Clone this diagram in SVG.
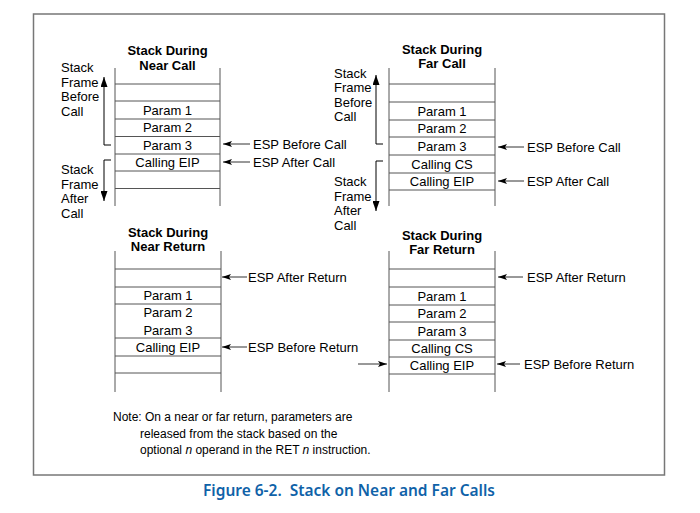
<svg xmlns="http://www.w3.org/2000/svg" width="700" height="513" viewBox="0 0 700 513">
<style>
.t{font-family:"Liberation Sans",Arial,sans-serif;font-size:13px;fill:#000}
.c{text-anchor:middle}
.b{font-weight:bold}
.n{font-family:"Liberation Sans",Arial,sans-serif;font-size:12px;fill:#000}
.s{stroke:#555;stroke-width:1;fill:none}
.a{stroke:#333;stroke-width:1;fill:none;marker-end:url(#ah)}
.br{stroke:#000;stroke-width:1;fill:none;marker-end:url(#bh)}
.cap{font-family:"Noto Sans","Open Sans",sans-serif;font-size:15.5px;font-weight:600;fill:#0f62a8}
</style>
<defs>
<marker id="ah" markerWidth="9" markerHeight="6" refX="9" refY="3" orient="auto" markerUnits="userSpaceOnUse">
<path d="M0,0 L9,3 L0,6 L2,3 z" fill="#000"/>
</marker>
<marker id="bh" markerWidth="10" markerHeight="7" refX="10" refY="3.5" orient="auto" markerUnits="userSpaceOnUse">
<path d="M0,0 L10,3.5 L0,7 z" fill="#000"/>
</marker>
</defs>
<rect x="33.5" y="14" width="631" height="461" fill="#fff" stroke="#777" stroke-width="1.5"/>

<g id="near-call">
<text class="t c b" x="167.5" y="55">Stack During</text>
<text class="t c b" x="167.5" y="70">Near Call</text>
<path class="s" d="M115,68V206M220,68V206M115,84H220M115,101H220M115,119H220M115,136.5H220M115,154H220M115,171H220M115,188.5H220"/>
<text class="t c" x="167.5" y="114.5">Param 1</text>
<text class="t c" x="167.5" y="132">Param 2</text>
<text class="t c" x="167.5" y="149.5">Param 3</text>
<text class="t c" x="167.5" y="167">Calling EIP</text>
<text class="t" x="61" y="72">Stack</text>
<text class="t" x="61" y="86.5">Frame</text>
<text class="t" x="61" y="101">Before</text>
<text class="t" x="61" y="115.5">Call</text>
<text class="t" x="61" y="174">Stack</text>
<text class="t" x="61" y="188.5">Frame</text>
<text class="t" x="61" y="203">After</text>
<text class="t" x="61" y="217.5">Call</text>
<text class="t" x="253" y="148.5">ESP Before Call</text>
<text class="t" x="253" y="166.5">ESP After Call</text>
</g>

<g id="far-call">
<text class="t c b" x="442" y="54">Stack During</text>
<text class="t c b" x="442" y="68">Far Call</text>
<path class="s" d="M389,68V206M495,68V206M389,84H495M389,102H495M389,120H495M389,137H495M389,155H495M389,173H495M389,190H495"/>
<text class="t c" x="442" y="115.5">Param 1</text>
<text class="t c" x="442" y="133">Param 2</text>
<text class="t c" x="442" y="150.5">Param 3</text>
<text class="t c" x="442" y="168.5">Calling CS</text>
<text class="t c" x="442" y="186">Calling EIP</text>
<text class="t" x="334" y="77.5">Stack</text>
<text class="t" x="334" y="92">Frame</text>
<text class="t" x="334" y="106.5">Before</text>
<text class="t" x="334" y="121">Call</text>
<text class="t" x="334" y="186">Stack</text>
<text class="t" x="334" y="200.5">Frame</text>
<text class="t" x="334" y="215">After</text>
<text class="t" x="334" y="229.5">Call</text>
<text class="t" x="527" y="151.5">ESP Before Call</text>
<text class="t" x="527" y="185.5">ESP After Call</text>
</g>

<g id="near-return">
<text class="t c b" x="168" y="236.5">Stack During</text>
<text class="t c b" x="168" y="250.5">Near Return</text>
<path class="s" d="M115,251V392M221,251V392M115,269H221M115,287H221M115,304H221M115,338H221M115,356H221M115,373H221"/>
<text class="t c" x="168" y="300">Param 1</text>
<text class="t c" x="168" y="317">Param 2</text>
<text class="t c" x="168" y="334.5">Param 3</text>
<text class="t c" x="168" y="351.5">Calling EIP</text>
<text class="t" x="248" y="282">ESP After Return</text>
<text class="t" x="248" y="352">ESP Before Return</text>
</g>

<g id="far-return">
<text class="t c b" x="442" y="240">Stack During</text>
<text class="t c b" x="442" y="254">Far Return</text>
<path class="s" d="M389,251V392M495,251V392M389,269H495M389,287H495M389,305H495M389,322H495M389,340H495M389,357H495M389,374H495"/>
<text class="t c" x="442" y="300.5">Param 1</text>
<text class="t c" x="442" y="318">Param 2</text>
<text class="t c" x="442" y="335.5">Param 3</text>
<text class="t c" x="442" y="353">Calling CS</text>
<text class="t c" x="442" y="370">Calling EIP</text>
<text class="t" x="527" y="282">ESP After Return</text>
<text class="t" x="524" y="369">ESP Before Return</text>
</g>

<g id="connectors">
<path class="br" d="M111,145H104V77"/>
<path class="br" d="M111,160H104V201"/>
<path class="br" d="M383,144H376V75"/>
<path class="br" d="M383,161H376V211"/>
<path class="a" d="M250,144H223"/>
<path class="a" d="M250,162H223"/>
<path class="a" d="M524,147H498"/>
<path class="a" d="M524,181H498"/>
<path class="a" d="M247,277H222"/>
<path class="a" d="M247,347H222"/>
<path class="a" d="M523,277H498"/>
<path class="a" d="M520,364H497"/>
<path class="a" d="M358,364H387"/>
</g>

<g id="note">
<text class="n" x="113" y="421">Note: On a near or far return, parameters are</text>
<text class="n" x="140" y="437.5">released from the stack based on the</text>
<text class="n" x="140" y="454">optional <tspan font-style="italic">n</tspan> operand in the RET <tspan font-style="italic">n</tspan> instruction.</text>
</g>

<text class="cap" x="349" y="496" text-anchor="middle" textLength="292" lengthAdjust="spacingAndGlyphs" xml:space="preserve">Figure 6-2.  Stack on Near and Far Calls</text>
</svg>
